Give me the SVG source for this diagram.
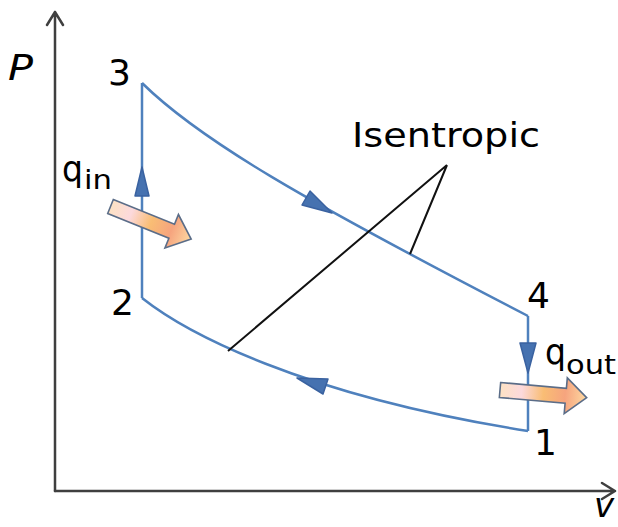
<svg xmlns="http://www.w3.org/2000/svg" width="618" height="527" viewBox="0 0 618 527">
<style>
.axis{fill:none;stroke:#3f3f3f;stroke-width:2.5;stroke-linecap:round;stroke-linejoin:round}
.proc{fill:none;stroke:#4f81bd;stroke-width:2.5}
.tri{fill:#4672b0;stroke:#3a62a0;stroke-width:1.5;stroke-linejoin:round}
.lead{fill:none;stroke:#111;stroke-width:2}
.heat{fill:url(#hg);stroke:#5b6d88;stroke-width:1.6;stroke-linejoin:miter}
text{font-family:"DejaVu Sans","Verdana",sans-serif;fill:#000}
.lbl{font-size:36px}
.it{font-style:italic}
</style>
<defs>
<linearGradient id="hg" x1="0" y1="0" x2="1" y2="0">
<stop offset="0" stop-color="#fde2c4"/>
<stop offset="0.25" stop-color="#fcd9dc"/>
<stop offset="0.5" stop-color="#f9bd74"/>
<stop offset="0.75" stop-color="#f6a47e"/>
<stop offset="1" stop-color="#fdd9a2"/>
</linearGradient>
<path id="harrow" d="M0,-7.5 L66,-7.5 L66,-18 L87,0 L66,18 L66,7.5 L0,7.5 Z"/>
</defs>
<g id="axes">
<path class="axis" d="M55,491 L55,12 M47,25 L55,12 L63,25"/>
<path class="axis" d="M55,491 L615,491 M602,483 L615,491 L602,499"/>
<text class="lbl it" x="8" y="80" textLength="25" lengthAdjust="spacingAndGlyphs">P</text>
<text class="it" x="594" y="517" font-size="34">v</text>
</g>
<g id="connectors">
<path class="proc" d="M142,83 L142,298"/>
<path class="proc" d="M142,83 C200,140 300,198 528,316"/>
<path class="proc" d="M528,316 L528,431"/>
<path class="proc" d="M142,298 C185,332 300,395 528,431"/>
<polygon class="tri" points="142,167 135,196 149,196"/>
<polygon class="tri" points="332,213 302,205 310,191"/>
<polygon class="tri" points="528,373 520,343 536,343"/>
<polygon class="tri" points="297,378 328,379 323,394"/>
<path class="lead" d="M447,165 L228,351 M447,165 L410,254"/>
</g>
<g id="node-3"><text class="lbl" x="108" y="85">3</text></g>
<g id="node-2"><text class="lbl" x="111" y="315">2</text></g>
<g id="node-4"><text class="lbl" x="527" y="308">4</text></g>
<g id="node-1"><text class="lbl" x="534" y="455">1</text></g>
<g id="label-isentropic"><text x="352" y="147" font-size="33" textLength="188" lengthAdjust="spacingAndGlyphs">Isentropic</text></g>
<g id="qin">
<use href="#harrow" class="heat" transform="translate(110.5,206.5) rotate(22)"/>
<text x="62" y="181" font-size="36" textLength="21" lengthAdjust="spacingAndGlyphs">q</text>
<text x="84" y="189" font-size="26" textLength="28" lengthAdjust="spacingAndGlyphs">in</text>
</g>
<g id="qout">
<use href="#harrow" class="heat" transform="translate(500,390) rotate(5)"/>
<text x="545" y="364" font-size="36" textLength="21" lengthAdjust="spacingAndGlyphs">q</text>
<text x="566" y="374" font-size="26" textLength="50" lengthAdjust="spacingAndGlyphs">out</text>
</g>
</svg>
